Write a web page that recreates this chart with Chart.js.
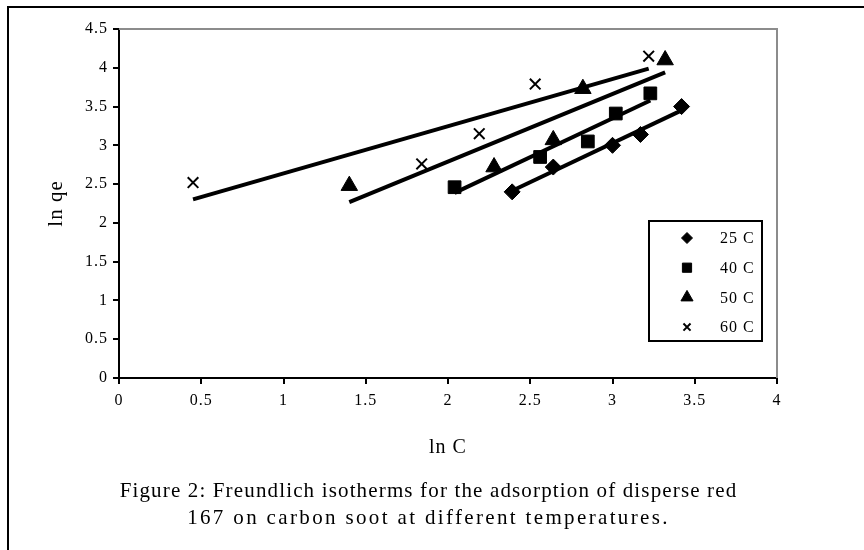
<!DOCTYPE html>
<html>
<head>
<meta charset="utf-8">
<script src="https://cdn.jsdelivr.net/npm/chart.js@4.4.0/dist/chart.umd.min.js"></script>
<style>
  html, body { margin: 0; padding: 0; background: #fff; overflow: hidden; }
  #frame { position: absolute; left: 7px; top: 6px; width: 900px; height: 600px; border-left: 2px solid #000; border-top: 2px solid #000; }
  #wrap { position: absolute; left: 0; top: 0; width: 864px; height: 550px; }
  #caption { position: absolute; left: 0; width: 857px; top: 477px; text-align: center; font-family: "Liberation Serif", serif; font-size: 21px; line-height: 27px; letter-spacing: 1.15px; color: #000; }
  #caption .l2 { letter-spacing: 2.35px; }
</style>
</head>
<body>
<div id="frame"></div>
<div id="wrap"><canvas id="chart" width="864" height="550"></canvas></div>
<div id="caption">Figure 2: Freundlich isotherms for the adsorption of disperse red<br><span class="l2">167 on carbon soot at different temperatures.</span></div>
<script>
// values
const seriesNames = ['25 C', '40 C', '50 C', '60 C'];
const lnC25 = [2.39, 2.64, 3.00, 3.17, 3.42];
const lnQe25 = [2.40, 2.72, 3.00, 3.14, 3.50];
const lnC40 = [2.04, 2.56, 2.85, 3.02, 3.23];
const lnQe40 = [2.46, 2.85, 3.05, 3.41, 3.67];
const lnC50 = [1.40, 2.28, 2.64, 2.82, 3.32];
const lnQe50 = [2.48, 2.72, 3.07, 3.73, 4.10];
const lnC60 = [0.45, 1.84, 2.19, 2.53, 3.22];
const lnQe60 = [2.52, 2.76, 3.15, 3.79, 4.15];
const xTicks = [0, 0.5, 1, 1.5, 2, 2.5, 3, 3.5, 4];
const yTicks = [0, 0.5, 1, 1.5, 2, 2.5, 3, 3.5, 4, 4.5];

const FONT = '"Liberation Serif", "Times New Roman", serif';
const markers = [
    { style: 'rectRot', radius: 8, legendRadius: 5.5, border: 1 },
    { style: 'rect', radius: 9, legendRadius: 6.5, border: 1 },
    { style: 'triangle', radius: 9.5, legendRadius: 7, border: 1 },
    { style: 'crossRot', radius: 7.5, legendRadius: 5, border: 2 }
];

// least squares trendline over the series' own x range
function fitLine(xs, ys) {
    const n = xs.length;
    const mx = xs.reduce((a, b) => a + b, 0) / n;
    const my = ys.reduce((a, b) => a + b, 0) / n;
    let sxy = 0, sxx = 0;
    for (let i = 0; i < n; i++) {
        sxy += (xs[i] - mx) * (ys[i] - my);
        sxx += (xs[i] - mx) * (xs[i] - mx);
    }
    const k = sxy / sxx, b = my - k * mx;
    const x0 = Math.min(...xs), x1 = Math.max(...xs);
    return [{ x: x0, y: k * x0 + b }, { x: x1, y: k * x1 + b }];
}

const xs = [lnC25, lnC40, lnC50, lnC60];
const ys = [lnQe25, lnQe40, lnQe50, lnQe60];
const datasets = [];
seriesNames.forEach((name, s) => {
    datasets.push({
        label: name + ' fit',
        data: fitLine(xs[s], ys[s]),
        showLine: true,
        borderColor: '#000',
        borderWidth: 4,
        pointRadius: 0
    });
});
seriesNames.forEach((name, s) => {
    datasets.push({
        label: name,
        data: xs[s].map((v, i) => ({ x: v, y: ys[s][i] })),
        showLine: false,
        pointStyle: markers[s].style,
        pointRadius: markers[s].radius,
        pointBorderWidth: markers[s].border,
        backgroundColor: '#000',
        borderColor: '#000'
    });
});

// the text in the figure is set loosely
const looseText = {
    id: 'looseText',
    beforeDraw(chart) { chart.ctx.letterSpacing = '1px'; }
};

// grey top/right edge of the plot area
const plotFrame = {
    id: 'plotFrame',
    beforeDatasetsDraw(chart) {
        const { ctx, chartArea: a } = chart;
        ctx.save();
        ctx.strokeStyle = '#8c8c8c';
        ctx.lineWidth = 2;
        ctx.beginPath();
        ctx.moveTo(a.left, a.top);
        ctx.lineTo(a.right, a.top);
        ctx.lineTo(a.right, a.bottom);
        ctx.stroke();
        ctx.restore();
    }
};

// boxed legend inside the plot
const boxLegend = {
    id: 'boxLegend',
    afterDraw(chart) {
        const { ctx, chartArea: a } = chart;
        const left = a.right - 128, top = a.top + 192, w = 113, h = 120;
        ctx.save();
        ctx.fillStyle = '#fff';
        ctx.fillRect(left, top, w, h);
        ctx.strokeStyle = '#000';
        ctx.lineWidth = 2;
        ctx.strokeRect(left, top, w, h);
        ctx.font = '16px ' + FONT;
        ctx.textBaseline = 'middle';
        seriesNames.forEach((name, s) => {
            const y = top + 17 + s * 29.7;
            ctx.fillStyle = '#000';
            ctx.strokeStyle = '#000';
            ctx.lineWidth = markers[s].border;
            Chart.helpers.drawPoint(ctx, {
                pointStyle: markers[s].style,
                radius: markers[s].legendRadius,
                rotation: 0,
                borderWidth: markers[s].border
            }, left + 38, y);
            ctx.fillStyle = '#000';
            ctx.fillText(name, left + 71, y + 1);
        });
        ctx.restore();
    }
};

new Chart(document.getElementById('chart'), {
    type: 'scatter',
    data: { datasets },
    options: {
        responsive: false,
        devicePixelRatio: 1,
        animation: false,
        layout: { padding: { left: 40, top: 29, right: 87, bottom: 90 } },
        plugins: { legend: { display: false }, tooltip: { enabled: false } },
        scales: {
            x: {
                type: 'linear',
                min: xTicks[0],
                max: xTicks[xTicks.length - 1],
                afterBuildTicks: (scale) => { scale.ticks = xTicks.map(v => ({ value: v })); },
                afterFit: (scale) => { scale.height = 82; },
                grid: { drawOnChartArea: false, drawTicks: true, tickLength: 6, color: '#000', lineWidth: 2 },
                border: { display: true, color: '#000', width: 2 },
                ticks: { color: '#000', padding: 7, font: { family: FONT, size: 16 }, callback: v => String(v), maxRotation: 0 },
                title: { display: true, text: 'ln C', color: '#000', font: { family: FONT, size: 20 }, padding: 0 }
            },
            y: {
                type: 'linear',
                min: yTicks[0],
                max: yTicks[yTicks.length - 1],
                afterBuildTicks: (scale) => { scale.ticks = yTicks.map(v => ({ value: v })); },
                afterFit: (scale) => { scale.width = 79; },
                grid: { drawOnChartArea: false, drawTicks: true, tickLength: 6, color: '#000', lineWidth: 2 },
                border: { display: true, color: '#000', width: 2 },
                ticks: { color: '#000', padding: 5, font: { family: FONT, size: 16 }, callback: v => String(v) },
                title: { display: true, text: 'ln qe', color: '#000', font: { family: FONT, size: 21 }, padding: { top: 4, bottom: 0 } }
            }
        }
    },
    plugins: [looseText, plotFrame, boxLegend]
});
</script>
</body>
</html>
